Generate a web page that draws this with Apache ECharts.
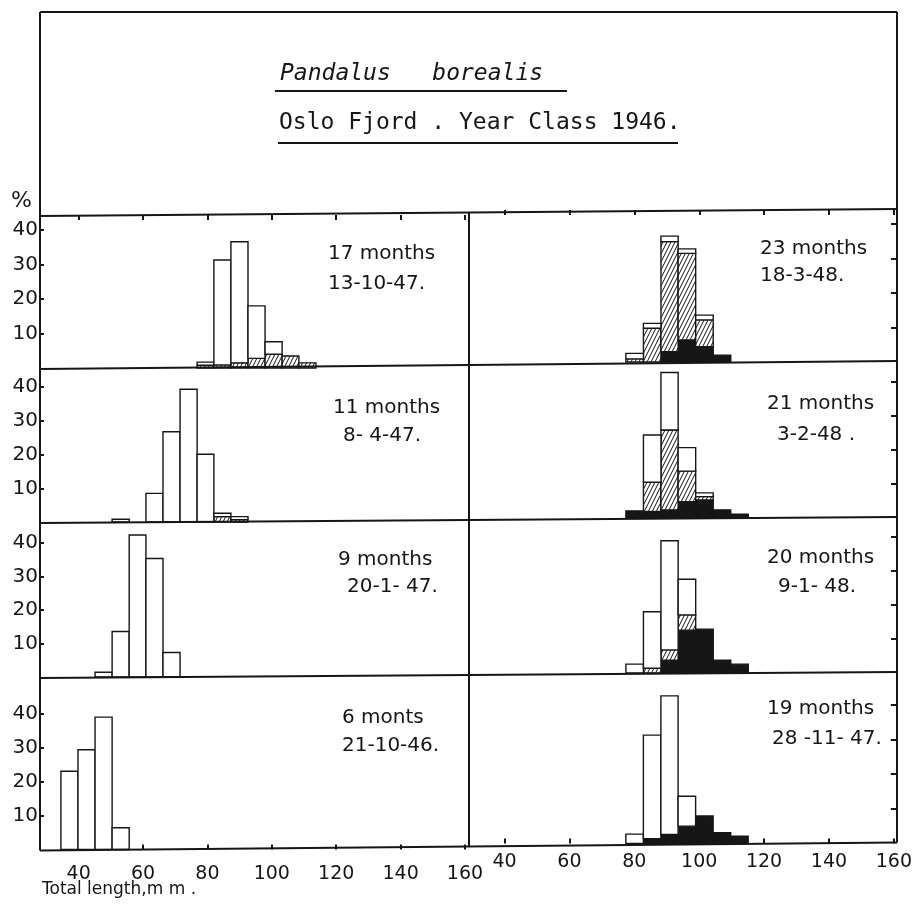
<!DOCTYPE html>
<html>
<head>
<meta charset="utf-8">
<script src="https://cdn.jsdelivr.net/npm/echarts@6/dist/echarts.min.js"></script>
<style>
  html, body { margin: 0; padding: 0; background: #ffffff; }
  #chart { width: 915px; height: 909px; }
</style>
</head>
<body>
<div id="chart"></div>
<script>
// ---- Length classes (mm), lower/upper edges of each histogram class ----
const leftClassEdges  = [34.5, 39.8, 45.1, 50.4, 55.7, 60.9, 66.2, 71.5, 76.8, 82.0, 87.3, 92.6, 97.9, 103.2, 108.4, 113.7];
const rightClassEdges = [77.4, 82.8, 88.2, 93.5, 98.9, 104.3, 109.7, 115.1];

const xTickValues = [40, 60, 80, 100, 120, 140, 160];
const yTickValues = [10, 20, 30, 40];

// ---- Percent per length class: black = lower part, hatched = middle, open = upper part ----
// 6 months, 21-10-46 (classes from index 0 of the left edges)
const m6First = 0;
const m6Open = [23.0, 29.3, 38.9, 6.4];

// 9 months, 20-1-47
const m9First = 2;
const m9Open = [1.4, 13.6, 42.4, 35.4, 7.3];

// 11 months, 8-4-47
const m11First = 3;
const m11Hatched = [0, 0, 0, 0, 0, 0, 1.6, 0.7];
const m11Open    = [0.8, 0, 8.5, 26.8, 39.4, 20.1, 1.0, 0.9];

// 17 months, 13-10-47
const m17First = 8;
const m17Hatched = [0.8, 0.9, 1.5, 2.8, 4.0, 3.5, 1.5];
const m17Open    = [0.9, 30.4, 35.1, 15.2, 3.6, 0, 0];

// 19 months, 28-11-47 (right column classes)
const m19Black   = [0, 1.4, 2.6, 5.0, 7.9, 3.1, 2.1];
const m19Hatched = [0, 0, 0, 0, 0, 0, 0];
const m19Open    = [2.7, 29.8, 39.9, 8.6, 0, 0, 0];

// 20 months, 9-1-48
const m20Black   = [0, 0, 3.8, 12.6, 12.9, 3.8, 2.6];
const m20Hatched = [0, 1.4, 3.0, 4.5, 0, 0, 0];
const m20Open    = [2.6, 16.6, 32.1, 10.5, 0, 0, 0];

// 21 months, 3-2-48
const m21Black   = [2.1, 1.9, 2.4, 4.8, 5.3, 2.4, 1.1];
const m21Hatched = [0, 8.6, 23.5, 9.0, 1.0, 0, 0];
const m21Open    = [0, 13.9, 16.9, 6.9, 1.1, 0, 0];

// 23 months, 18-3-48
const m23Black   = [0, 0, 3.0, 6.4, 4.4, 2.0, 0];
const m23Hatched = [0.9, 9.8, 31.9, 25.1, 7.8, 0, 0];
const m23Open    = [1.6, 1.4, 1.6, 1.3, 1.4, 0, 0];

// ---- Panel layout ----
const INK = '#161616';
const LABEL_FONT = '"DejaVu Sans", sans-serif';

const leftCol  = { left: 40,  width: 429, min: 28.0,  max: 161.24, edges: leftClassEdges };
const rightCol = { left: 469, width: 428, min: 29.06, max: 160.92, edges: rightClassEdges };

const panels = [
  { col: leftCol,  top: 215, bottom: 368,   ymax: 44.35, first: m17First, layers: [null, m17Hatched, m17Open],
    head: '17 months', date: '13-10-47.',   hx: 328, hy: 254, dx: 328, dy: 284, topAxis: true },
  { col: leftCol,  top: 369, bottom: 522,   ymax: 45.4,  first: m11First, layers: [null, m11Hatched, m11Open],
    head: '11 months', date: '8- 4-47.',    hx: 333, hy: 408, dx: 343, dy: 436 },
  { col: leftCol,  top: 523, bottom: 677,   ymax: 46.0,  first: m9First,  layers: [null, null, m9Open],
    head: '9 months',  date: '20-1- 47.',   hx: 338, hy: 560, dx: 347, dy: 587 },
  { col: leftCol,  top: 678, bottom: 849.5, ymax: 50.4,  first: m6First,  layers: [null, null, m6Open],
    head: '6 monts',   date: '21-10-46.',   hx: 342, hy: 718, dx: 342, dy: 746, bottomAxis: true, labelMargin: 15 },
  { col: rightCol, top: 210, bottom: 362,   ymax: 44.06, first: 0, layers: [m23Black, m23Hatched, m23Open],
    head: '23 months', date: '18-3-48.',    hx: 760, hy: 249, dx: 760, dy: 276, topAxis: true },
  { col: rightCol, top: 362, bottom: 518,   ymax: 45.9,  first: 0, layers: [m21Black, m21Hatched, m21Open],
    head: '21 months', date: '3-2-48 .',    hx: 767, hy: 404, dx: 777, dy: 435 },
  { col: rightCol, top: 518, bottom: 673,   ymax: 45.6,  first: 0, layers: [m20Black, m20Hatched, m20Open],
    head: '20 months', date: '9-1- 48.',    hx: 767, hy: 558, dx: 778, dy: 587 },
  { col: rightCol, top: 673, bottom: 843.5, ymax: 49.1,  first: 0, layers: [m19Black, m19Hatched, m19Open],
    head: '19 months', date: '28 -11- 47.', hx: 767, hy: 709, dx: 772, dy: 739, bottomAxis: true, labelMargin: 9 }
];

// Diagonal hatching used for the middle layer
function makeHatch() {
  const w = 4, h = 8;
  const c = document.createElement('canvas');
  c.width = w; c.height = h;
  const ctx = c.getContext('2d');
  ctx.fillStyle = '#ffffff';
  ctx.fillRect(0, 0, w, h);
  ctx.strokeStyle = INK;
  ctx.lineWidth = 1;
  for (let k = -1; k <= 1; k++) {
    ctx.beginPath();
    ctx.moveTo(k * w, h);
    ctx.lineTo(k * w + w, 0);
    ctx.stroke();
  }
  return c;
}
const hatchFill = { image: makeHatch(), repeat: 'repeat' };
const layerFills = [INK, hatchFill, '#ffffff'];

// Build stacked [lo, hi, base, top] boxes for one panel
function stackBoxes(edges, first, layers) {
  const out = layers.map(() => []);
  const n = Math.max(...layers.map(l => (l ? l.length : 0)));
  for (let i = 0; i < n; i++) {
    let base = 0;
    layers.forEach((arr, k) => {
      const v = arr ? (arr[i] || 0) : 0;
      if (v > 0) out[k].push([edges[first + i], edges[first + i + 1], base, base + v]);
      base += v;
    });
  }
  return out;
}

function boxRenderer(fill) {
  return function (params, api) {
    const a = api.coord([api.value(0), api.value(3)]);
    const b = api.coord([api.value(1), api.value(2)]);
    return {
      type: 'rect',
      shape: { x: a[0], y: a[1], width: b[0] - a[0], height: b[1] - a[1] },
      style: { fill: fill, stroke: INK, lineWidth: 1.4 }
    };
  };
}

const grids = [], xAxes = [], yAxes = [], series = [], extraX = [];

panels.forEach((p, i) => {
  const isRight = p.col === rightCol;
  grids.push({ left: p.col.left, width: p.col.width, top: p.top, height: p.bottom - p.top, show: false });

  xAxes.push({
    gridIndex: i, type: 'value', position: 'bottom', min: p.col.min, max: p.col.max,
    axisLine: { show: false }, splitLine: { show: false },
    axisTick: { show: !!p.bottomAxis, inside: true, length: 5, customValues: xTickValues,
                lineStyle: { color: INK, width: 2 } },
    axisLabel: { show: !!p.bottomAxis, customValues: xTickValues, margin: p.labelMargin || 10,
                 color: INK, fontSize: 19, fontFamily: LABEL_FONT }
  });
  if (p.topAxis) {
    extraX.push({
      gridIndex: i, type: 'value', position: 'top', min: p.col.min, max: p.col.max,
      axisLine: { show: false }, splitLine: { show: false },
      axisTick: { show: true, inside: true, length: 5, customValues: xTickValues,
                  lineStyle: { color: INK, width: 2 } },
      axisLabel: { show: false }
    });
  }

  yAxes.push({
    gridIndex: i, type: 'value', position: isRight ? 'right' : 'left', min: 0, max: p.ymax,
    axisLine: { show: false }, splitLine: { show: false },
    axisTick: { show: true, inside: true, length: isRight ? 6 : 4, customValues: yTickValues,
                lineStyle: { color: INK, width: 2 } },
    axisLabel: { show: !isRight, customValues: yTickValues, margin: 2,
                 color: INK, fontSize: 20, fontFamily: LABEL_FONT }
  });

  const boxes = stackBoxes(p.col.edges, p.first, p.layers);
  boxes.forEach((data, k) => {
    if (!data.length) return;
    series.push({
      type: 'custom', xAxisIndex: i, yAxisIndex: i, coordinateSystem: 'cartesian2d',
      renderItem: boxRenderer(layerFills[k]), data: data,
      encode: { x: [0, 1], y: [2, 3] }, clip: false, silent: true
    });
  });
});

// ---- Frame, separators and lettering ----
function line(x1, y1, x2, y2, w) {
  return { type: 'line', silent: true, z: 10,
           shape: { x1: x1, y1: y1, x2: x2, y2: y2 },
           style: { stroke: INK, lineWidth: w || 2 } };
}
function label(text, x, y, font) {
  return { type: 'text', silent: true, z: 10, x: x, y: y,
           style: { text: text, font: font, fill: INK, align: 'left', verticalAlign: 'middle' } };
}

const graphics = [
  line(40, 12, 897, 12),
  line(40, 12, 40, 850.5),
  line(897, 12, 897, 842.5),
  line(40, 216, 897, 209),
  line(40, 369, 897, 361),
  line(40, 523, 897, 517),
  line(40, 678, 897, 672),
  line(40, 850.5, 897, 842.5),
  line(469, 212.5, 469, 847),
  line(275, 91, 567, 91),
  line(278, 143, 678, 143),
  label('Pandalus   borealis', 280, 74, 'italic 23px "DejaVu Sans Mono", monospace'),
  label('Oslo Fjord . Year Class 1946.', 279, 123, '23px "DejaVu Sans Mono", monospace'),
  label('%', 11, 201, '22px ' + LABEL_FONT),
  label('Total length,m m .', 42, 890, '17px ' + LABEL_FONT)
];
panels.forEach(p => {
  graphics.push(label(p.head, p.hx, p.hy, '20px ' + LABEL_FONT));
  graphics.push(label(p.date, p.dx, p.dy, '20px ' + LABEL_FONT));
});

const chart = echarts.init(document.getElementById('chart'), null, { renderer: 'canvas' });
chart.setOption({
  animation: false,
  backgroundColor: '#ffffff',
  grid: grids,
  xAxis: xAxes.concat(extraX),
  yAxis: yAxes,
  series: series,
  graphic: { elements: graphics }
});
</script>
</body>
</html>
